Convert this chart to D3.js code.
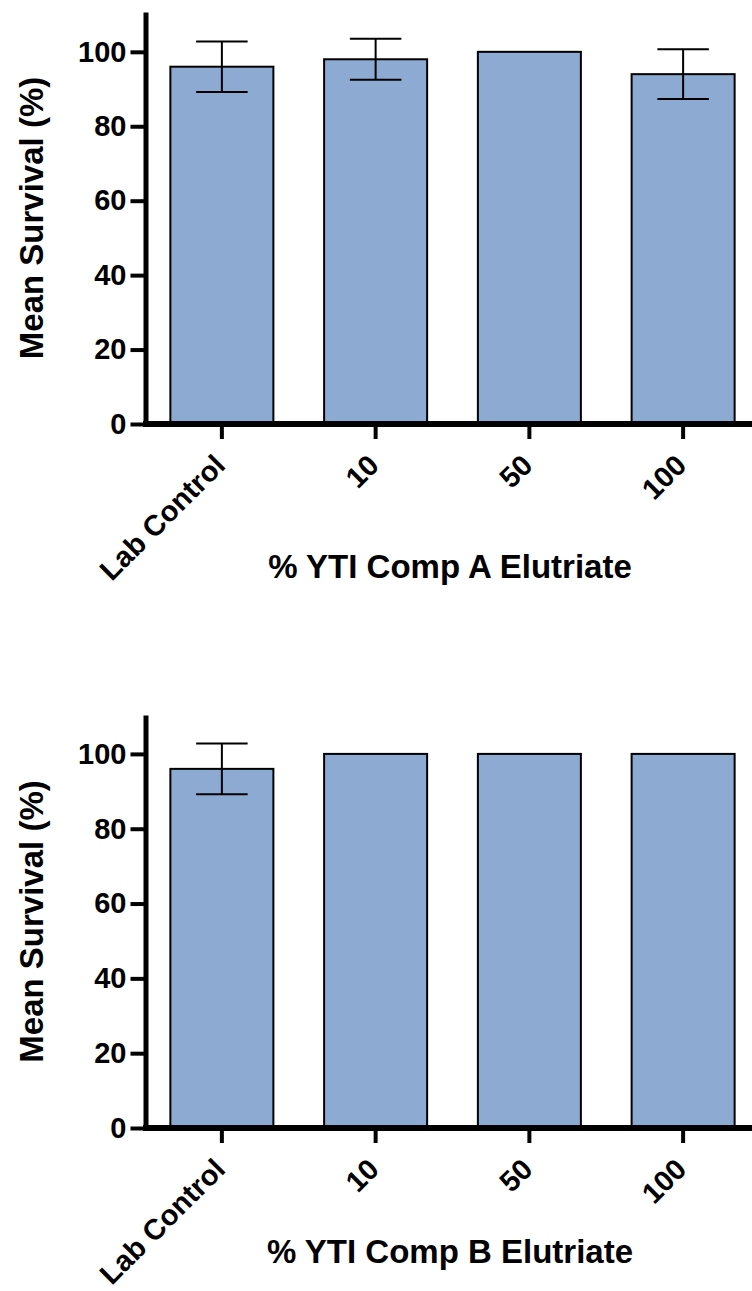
<!DOCTYPE html>
<html>
<head>
<meta charset="utf-8">
<script src="https://cdn.jsdelivr.net/npm/d3@7"></script>
<style>
  html, body { margin: 0; padding: 0; background: #fff; }
  svg { display: block; }
  text { font-family: "Liberation Sans", Arial, sans-serif; font-weight: bold; fill: #000; }
</style>
</head>
<body>
<svg id="chart" width="752" height="1291"></svg>
<script>
const categories = ["Lab Control", "10", "50", "100"];
const compAMean = [96, 98, 100, 94];
const compASD = [6.8, 5.5, 0, 6.7];
const compBMean = [96, 100, 100, 100];
const compBSD = [6.8, 0, 0, 0];
const yTicks = [0, 20, 40, 60, 80, 100];
const yTitle = "Mean Survival (%)";
const xTitleA = "% YTI Comp A Elutriate";
const xTitleB = "% YTI Comp B Elutriate";

const svg = d3.select("#chart");

function panel(means, sds, xTitle, cfg) {
  const g = svg.append("g");
  const x = d3.scaleBand().domain(categories).range([145, 760])
    .paddingInner(0.33).paddingOuter(0.165);
  const y = d3.scaleLinear().domain([0, cfg.yMax]).range([cfg.base, cfg.top]);
  const data = categories.map((c, i) => ({ c, m: means[i], sd: sds[i] }));

  // bars
  g.selectAll("rect.bar").data(data).join("rect")
    .attr("class", "bar")
    .attr("x", d => x(d.c))
    .attr("width", x.bandwidth())
    .attr("y", d => y(d.m))
    .attr("height", d => y(0) - y(d.m))
    .attr("fill", "#8caad2")
    .attr("stroke", "#000")
    .attr("stroke-width", 2);

  // error bars
  const eb = data.filter(d => d.sd > 0);
  const capW = x.bandwidth() / 2;
  const eg = g.selectAll("g.err").data(eb).join("g").attr("class", "err")
    .attr("stroke", "#000").attr("stroke-width", 2);
  eg.append("line")
    .attr("x1", d => x(d.c) + x.bandwidth() / 2).attr("x2", d => x(d.c) + x.bandwidth() / 2)
    .attr("y1", d => y(d.m - d.sd)).attr("y2", d => y(d.m + d.sd));
  eg.append("line")
    .attr("x1", d => x(d.c) + x.bandwidth() / 2 - capW / 2).attr("x2", d => x(d.c) + x.bandwidth() / 2 + capW / 2)
    .attr("y1", d => y(d.m + d.sd)).attr("y2", d => y(d.m + d.sd));
  eg.append("line")
    .attr("x1", d => x(d.c) + x.bandwidth() / 2 - capW / 2).attr("x2", d => x(d.c) + x.bandwidth() / 2 + capW / 2)
    .attr("y1", d => y(d.m - d.sd)).attr("y2", d => y(d.m - d.sd));

  // y axis
  const yAxis = d3.axisLeft(y).tickValues(yTicks).tickSize(15).tickSizeOuter(0).tickPadding(4);
  const ya = g.append("g").attr("transform", "translate(145.5,0)").call(yAxis);
  ya.select(".domain").attr("stroke", "#000").attr("stroke-width", 5);
  ya.selectAll(".tick line").attr("stroke", "#000").attr("stroke-width", 4);
  ya.selectAll(".tick text").style("font-size", "29px").style("font-weight", "bold")
    .style("font-family", '"Liberation Sans", Arial, sans-serif').attr("fill", "#000");

  // x axis
  const xAxis = d3.axisBottom(x).tickSize(15).tickSizeOuter(0);
  const xa = g.append("g").attr("transform", `translate(0,${y(0)})`).call(xAxis);
  xa.select(".domain").remove();
  xa.selectAll(".tick line").attr("stroke", "#000").attr("stroke-width", 4);
  xa.selectAll(".tick text")
    .attr("x", 0).attr("y", 0).attr("dy", 0)
    .attr("transform", "translate(5,43) rotate(-45)")
    .attr("text-anchor", "end")
    .style("font-size", "29px").style("font-weight", "bold")
    .style("font-family", '"Liberation Sans", Arial, sans-serif').attr("fill", "#000");
  g.append("line")
    .attr("x1", 143).attr("x2", 760)
    .attr("y1", y(0)).attr("y2", y(0))
    .attr("stroke", "#000").attr("stroke-width", 6);

  // titles
  g.append("text")
    .attr("transform", `translate(43,${(y(0) + y(cfg.yMax)) / 2}) rotate(-90)`)
    .attr("text-anchor", "middle")
    .style("font-size", "33px")
    .text(yTitle);
  g.append("text")
    .attr("x", 450).attr("y", cfg.titleY)
    .attr("text-anchor", "middle")
    .style("font-size", "33px")
    .text(xTitle);
}

panel(compAMean, compASD, xTitleA, { base: 424, top: 12, yMax: 110.7, titleY: 578 });
panel(compBMean, compBSD, xTitleB, { base: 1128, top: 715, yMax: 110.4, titleY: 1263 });
</script>
</body>
</html>
